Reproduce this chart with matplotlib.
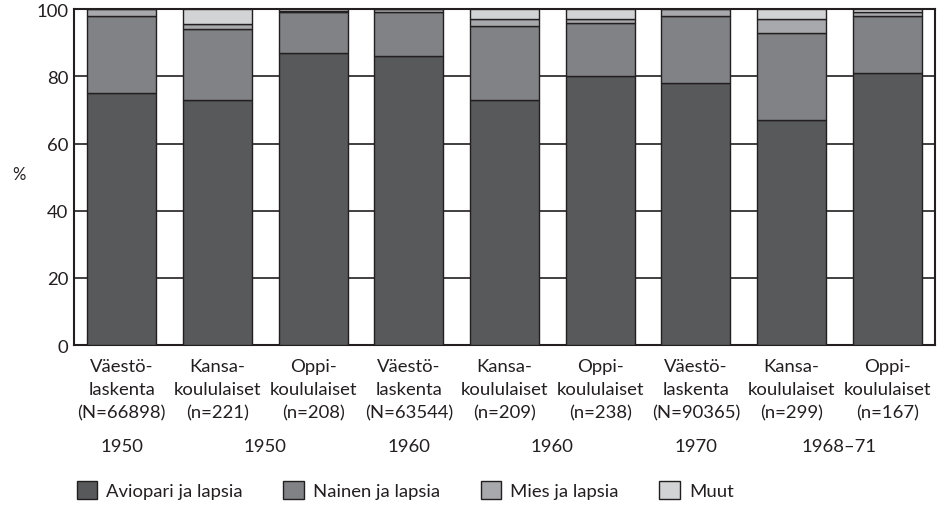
import numpy as np
import matplotlib.pyplot as plt
from matplotlib.patches import Patch
from matplotlib.transforms import blended_transform_factory

plt.rcParams['font.family'] = ['Lato', 'DejaVu Sans']

categories = [
    "Väestö-\nlaskenta\n(N=66898)",
    "Kansa-\nkoululaiset\n(n=221)",
    "Oppi-\nkoululaiset\n(n=208)",
    "Väestö-\nlaskenta\n(N=63544)",
    "Kansa-\nkoululaiset\n(n=209)",
    "Oppi-\nkoululaiset\n(n=238)",
    "Väestö-\nlaskenta\n(N=90365)",
    "Kansa-\nkoululaiset\n(n=299)",
    "Oppi-\nkoululaiset\n(n=167)",
]
years = ["1950", "1950", "1960", "1960", "1970", "1968–71"]
year_groups = [[0], [1, 2], [3], [4, 5], [6], [7, 8]]

aviopari = [75, 73, 87, 86, 73, 80, 78, 67, 81]
nainen = [23, 21, 12, 13, 22, 16, 20, 26, 17]
mies = [2, 1.5, 0.5, 1, 2, 1, 2, 4, 1]
muut = [0, 4.5, 0.5, 0, 3, 3, 0, 3, 1]

series = [
    ("Aviopari ja lapsia", aviopari, "#58595b"),
    ("Nainen ja lapsia", nainen, "#808285"),
    ("Mies ja lapsia", mies, "#a7a9ac"),
    ("Muut", muut, "#d1d3d4"),
]

fs = 13.3

fig = plt.figure(figsize=(9.42, 5.06), dpi=100)
ax = fig.add_axes([0.0786, 0.316, 0.914, 0.664])

x = np.arange(len(categories))
bottom = np.zeros(len(categories))
handles = []
for name, vals, col in series:
    vals = np.array(vals, dtype=float)
    ax.bar(x, vals, bottom=bottom, width=0.72, color=col, edgecolor="#231f20",
           linewidth=1.0, zorder=3)
    bottom += vals
    handles.append(Patch(facecolor=col, edgecolor="#231f20", linewidth=1.0, label=name))

ax.set_xlim(-0.5, len(categories) - 0.5)
ax.set_ylim(0, 100)
ax.set_yticks(range(0, 101, 20))
ax.yaxis.grid(True, color="#231f20", linewidth=1.2, zorder=0)
ax.set_axisbelow(True)
ax.tick_params(axis="y", length=0, labelsize=fs, pad=4, colors="#231f20")
ax.tick_params(axis="x", length=0, labelsize=fs, pad=9, colors="#231f20")
ax.set_xticks(x)
ax.set_xticklabels(categories, linespacing=1.55)
for sp in ax.spines.values():
    sp.set_color("#231f20")
    sp.set_linewidth(1.5)

ax.set_ylabel("%", rotation=0, fontsize=12, color="#231f20")
ax.yaxis.set_label_coords(-0.064, 0.485)

trans = blended_transform_factory(ax.transData, fig.transFigure)
for yr, grp in zip(years, year_groups):
    ax.text(np.mean(grp), 1 - 447 / 506, yr, transform=trans, ha="center",
            va="center", fontsize=fs, color="#231f20")

fig.legend(handles=handles, ncol=4, loc="center left",
           bbox_to_anchor=(60 / 942, 1 - 491 / 506), frameon=False,
           fontsize=fs, handlelength=1.1, handleheight=1.1,
           handletextpad=0.5, columnspacing=2.2, labelcolor="#231f20")

fig.savefig("out.png", dpi=100)
